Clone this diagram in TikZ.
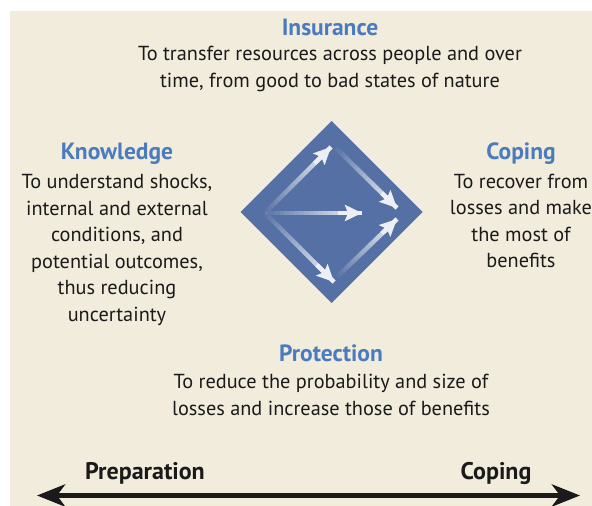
\documentclass[tikz,border=0pt]{standalone}
\usepackage{fontspec}
\setmainfont{PT Sans}
\usetikzlibrary{arrows.meta,calc}
\definecolor{paper}{RGB}{242,236,221}
\definecolor{diamondblue}{RGB}{85,112,164}
\definecolor{titleblue}{RGB}{74,123,190}
\definecolor{ink}{RGB}{26,26,26}
\definecolor{headwhite}{RGB}{236,239,246}
\tikzset{
  title/.style={text=titleblue, font=\bfseries\fontsize{23.5}{26}\selectfont, inner sep=0pt},
  body/.style={text=ink, font=\fontsize{20.3}{26.5}\selectfont, align=center, inner sep=0pt},
  axislabel/.style={text=ink, font=\bfseries\fontsize{24}{26}\selectfont, inner sep=0pt},
  shaft/.style={white, line width=4.5pt, line cap=butt},
  tiphead/.style={headwhite, line width=4.5pt, -{Stealth[length=17pt,width=16pt,inset=3pt]}},
  timeline/.style={ink, line width=5pt, {Stealth[length=28pt,width=22pt,inset=8pt]}-{Stealth[length=28pt,width=22pt,inset=8pt]}}
}
% shaft that fades in from its tail, with a solid head
\newcommand\fadearrow[2]{%
  \foreach \i in {0,...,19} {%
    \pgfmathsetmacro\sa{\i/20}%
    \pgfmathsetmacro\sb{(\i+1)/20}%
    \pgfmathsetmacro\op{0.92*(\i+1)/20}%
    \draw[shaft, opacity=\op] ($(#1)!\sa!(#2)$) -- ($(#1)!\sb!(#2)$);
  }%
  \draw[tiphead] ($(#1)!0.75!(#2)$) -- (#2);
}
\begin{document}
\begin{tikzpicture}[x=1pt, y=-1pt]
\useasboundingbox (0,0) rectangle (592,506);
\fill[white] (0,0) rectangle (592,506);
\fill[paper] (10,11) rectangle (592,506);

% central diamond
\coordinate (dc) at (331.5,212);
\fill[diamondblue] (331.5,121) coordinate (dn) -- (422.5,212) coordinate (de)
  -- (331.5,303) coordinate (ds) -- (240.5,212) coordinate (dw) -- cycle;

% flow arrows inside the diamond
\coordinate (src) at (265,213);
\coordinate (up) at (331,147);
\coordinate (mid) at (362,213);
\coordinate (low) at (334,282);
\coordinate (upstart) at (336,148);
\coordinate (lowstart) at (337,277);
\coordinate (sinkup) at (397,208);
\coordinate (sinklow) at (397,219);
\fadearrow{src}{up}
\fadearrow{src}{mid}
\fadearrow{src}{low}
\fadearrow{upstart}{sinkup}
\fadearrow{lowstart}{sinklow}

% labels
\node[title] (insT) at (330,27) {Insurance};
\node[body] (insB) at (330,69) {To transfer resources across people and over\\time, from good to bad states of nature};

\node[title] (knT) at (117,154) {Knowledge};
\node[body] (knB) at (117,250) {To understand shocks,\\internal and external\\conditions, and\\potential outcomes,\\thus reducing\\uncertainty};

\node[title] (coT) at (521,154) {Coping};
\node[body] (coB) at (521,221) {To recover from\\losses and make\\the most of\\benefits};

\node[title] (prT) at (331,353) {Protection};
\node[body] (prB) at (331,395) {To reduce the probability and size of\\losses and increase those of benefits};

% preparation-coping axis
\node[axislabel] (prep) at (145,473) {Preparation};
\node[axislabel] (cope) at (496,473) {Coping};
\coordinate (axL) at (37,495.5);
\coordinate (axR) at (580,495.5);
\draw[timeline] (axL) -- (axR);
\end{tikzpicture}
\end{document}
